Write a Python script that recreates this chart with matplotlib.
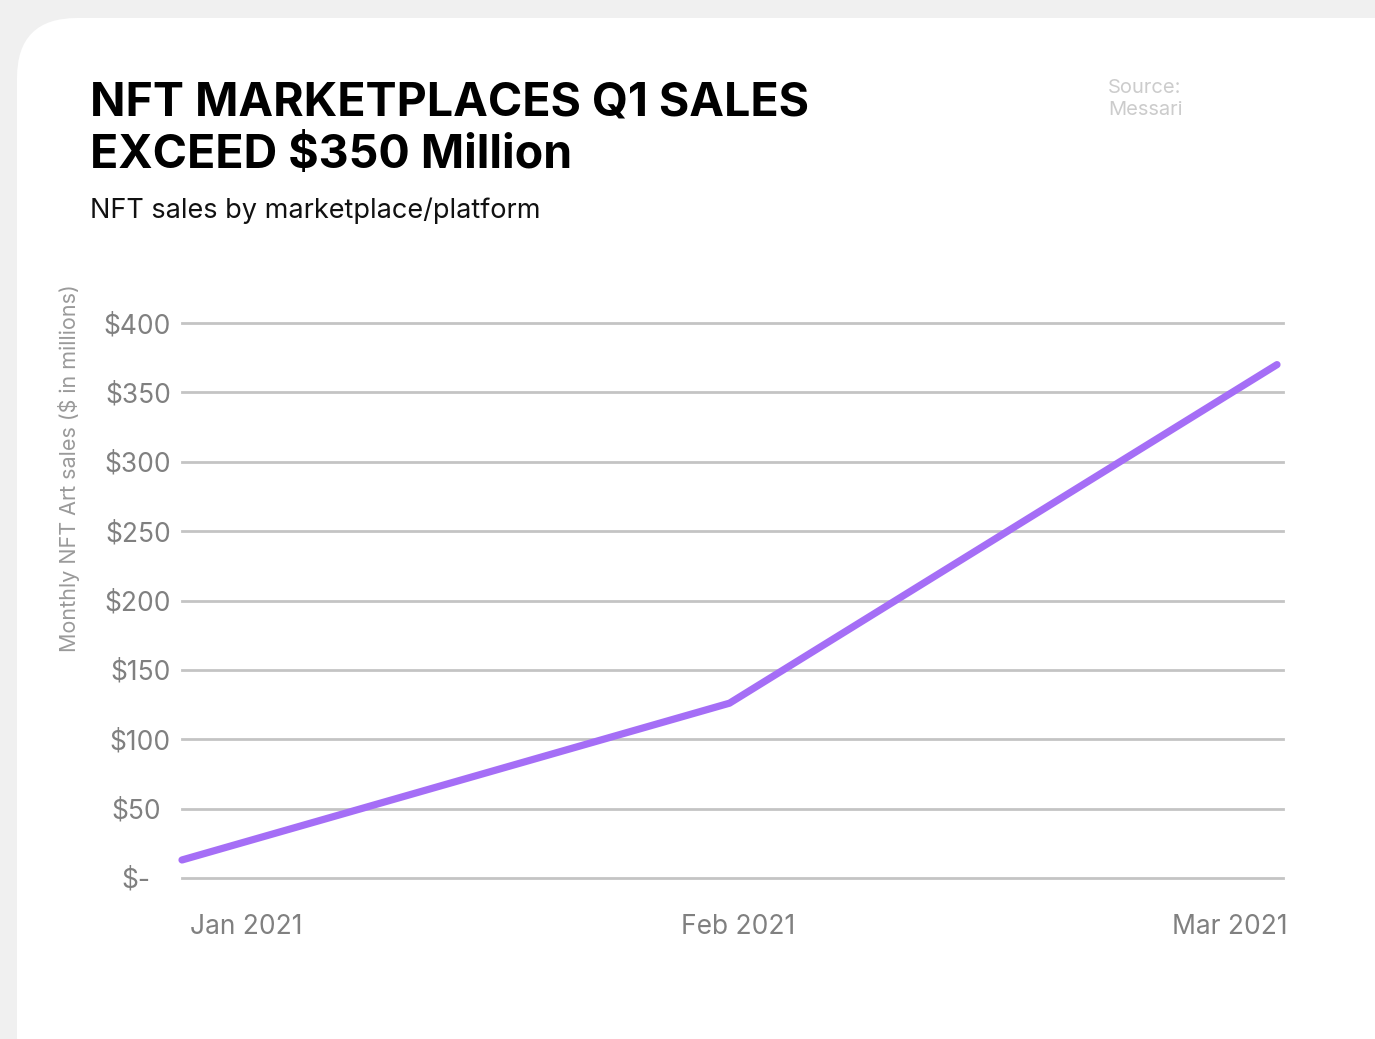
import matplotlib.pyplot as plt
import matplotlib.transforms as mtransforms
from matplotlib.patches import FancyBboxPatch

months = ["Jan 2021", "Feb 2021", "Mar 2021"]
sales = [13, 126, 370]
yticks = [0, 50, 100, 150, 200, 250, 300, 350, 400]
ytick_labels = ["$-", "$50", "$100", "$150", "$200", "$250", "$300", "$350", "$400"]

W, H = 1375, 1039
fig = plt.figure(figsize=(W / 100, H / 100), dpi=100, facecolor="#f0f0f0")

# white card behind everything
bg = fig.add_axes([0, 0, 1, 1], zorder=0)
bg.set_xlim(0, W)
bg.set_ylim(H, 0)
bg.axis("off")
bg.add_patch(FancyBboxPatch((17, 18), 1420, 1080, boxstyle="round,pad=0,rounding_size=60",
                            facecolor="white", edgecolor="none"))

fig.text(90 / W, 1 - 81 / H, "NFT MARKETPLACES Q1 SALES\nEXCEED $350 Million",
         family="Inter", weight="bold", fontsize=33.5, color="black",
         va="top", ha="left", linespacing=1.27)
fig.text(90 / W, 1 - 211 / H, "NFT sales by marketplace/platform",
         family="Inter", fontsize=19.5, color="#111111", va="center", ha="left")
fig.text(1108 / W, 1 - 99 / H, "Source:\nMessari", family="Inter", fontsize=14.5,
         color="#cccccc", va="center", ha="left", linespacing=1.35)

ax = fig.add_axes([182 / W, 161 / H, (1283 - 182) / W, (878 - 323) / H], zorder=1)
ax.patch.set_alpha(0)
x = list(range(len(months)))
ax.plot(x, sales, color="#a56ef6", linewidth=5.2, solid_capstyle="round", zorder=3, clip_on=False)

ax.set_ylim(0, 400)
ax.set_xlim(0, 2 * 1101 / 1095)
ax.set_yticks(yticks)
ax.set_yticklabels(ytick_labels)
ax.set_xticks(x)
ax.set_xticklabels(months)
for s in ax.spines.values():
    s.set_visible(False)
ax.grid(axis="y", color="#c4c4c4", linewidth=2, zorder=1)
for gl in ax.get_ygridlines():
    gl.set_clip_on(False)
ax.tick_params(axis="both", length=0, colors="#808080", labelsize=19)
ax.tick_params(axis="y", pad=8)
ax.tick_params(axis="x", pad=26)
for lab in ax.get_xticklabels() + ax.get_yticklabels():
    lab.set_family("Inter")

# x labels: first left-aligned, middle centred, last right-aligned
xlabs = ax.get_xticklabels()
xlabs[0].set_ha("left")
xlabs[-1].set_ha("right")
for lab, dx in zip(xlabs, [8, 9, 11]):
    lab.set_transform(lab.get_transform() + mtransforms.ScaledTranslation(dx / 100, 0, fig.dpi_scale_trans))

# the two small labels sit a little further left
ylabs = ax.get_yticklabels()
for lab, dx in zip(ylabs[:2], [-20, -10]):
    lab.set_transform(lab.get_transform() + mtransforms.ScaledTranslation(dx / 100, 0, fig.dpi_scale_trans))

ax.set_ylabel("Monthly NFT Art sales ($ in millions)", family="Inter", fontsize=15.5,
              color="#9a9a9a")
ax.yaxis.set_label_coords((80 - 182) / 1101, (878 - 468) / 555)

fig.savefig("out.png", dpi=100, facecolor=fig.get_facecolor())
